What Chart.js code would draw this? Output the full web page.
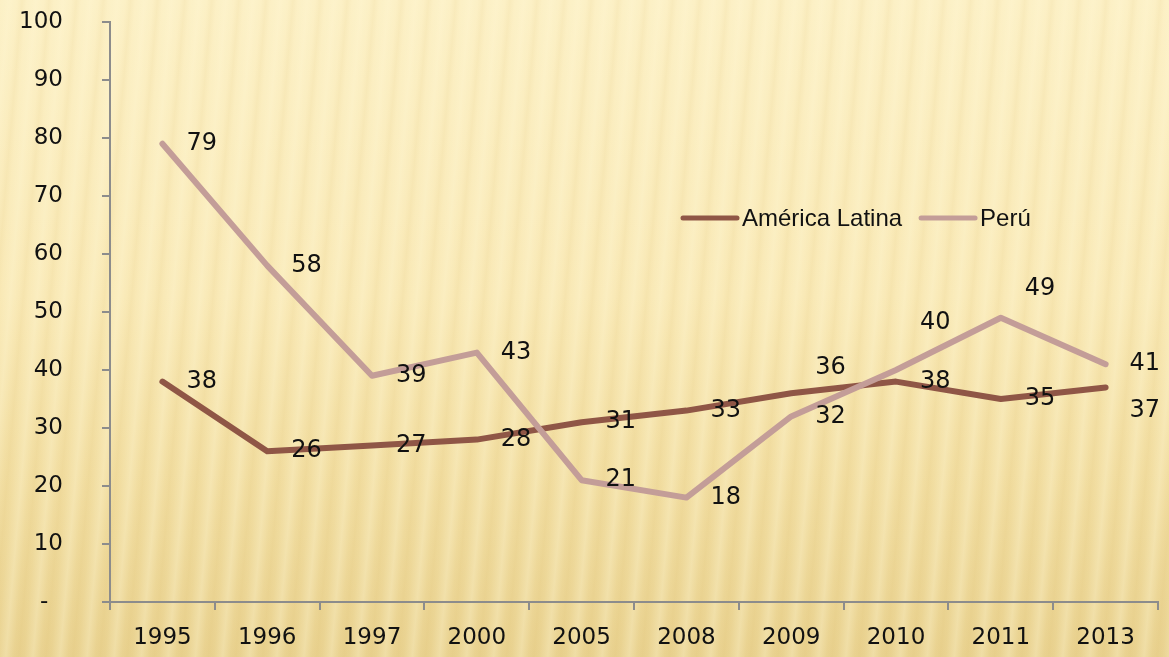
<!DOCTYPE html>
<html>
<head>
<meta charset="utf-8">
<script src="https://cdn.jsdelivr.net/npm/chart.js@4"></script>
<style>
  html, body { margin: 0; padding: 0; }
  body {
    width: 1169px; height: 657px; overflow: hidden;
    background:
      repeating-linear-gradient(95deg, rgba(255,248,215,0) 0px, rgba(255,248,215,0.30) 9px, rgba(255,248,215,0) 17px, rgba(205,165,70,0.07) 22px, rgba(255,248,215,0) 27px),
      linear-gradient(to bottom, #FCF0C5 0%, #F9E9B6 45%, #F2DEA2 72%, #E9D290 100%);
  }
  #wrap { position: relative; width: 1169px; height: 657px; }
</style>
</head>
<body>
<div id="wrap"><canvas id="chart"></canvas></div>
<script>
const years       = ['1995', '1996', '1997', '2000', '2005', '2008', '2009', '2010', '2011', '2013']
const latinValues = [38, 26, 27, 28, 31, 33, 36, 38, 35, 37]
const peruValues  = [79, 58, 39, 43, 21, 18, 32, 40, 49, 41]
const yTicks      = [0, 10, 20, 30, 40, 50, 60, 70, 80, 90, 100]

const AXIS_GRAY = '#8C8C8C'
const LATIN_COLOR = '#8F5646'
const PERU_COLOR  = '#C39D98'

// value labels to the right of each point, a few nudged up/down like the original
const labelPlugin = {
  id: 'valueLabels',
  afterDatasetsDraw(chart, args, opts) {
    const ctx = chart.ctx
    ctx.save()
    ctx.font = '24px "DejaVu Sans"'
    ctx.fillStyle = '#111'
    ctx.textAlign = 'left'
    ctx.textBaseline = 'middle'
    chart.data.datasets.forEach((ds, di) => {
      const meta = chart.getDatasetMeta(di)
      const dys = opts.offsets[di] || []
      meta.data.forEach((pt, i) => {
        ctx.fillText(String(ds.data[i]), pt.x + 24, pt.y + (dys[i] || 0))
      })
    })
    ctx.restore()
  }
}

// legend drawn inside the plot, as in the original
const legendPlugin = {
  id: 'insideLegend',
  afterDraw(chart, args, opts) {
    const ctx = chart.ctx
    ctx.save()
    ctx.font = '24px "Liberation Sans"'
    ctx.textBaseline = 'middle'
    ctx.textAlign = 'left'
    let x = opts.x
    const y = opts.y
    chart.data.datasets.forEach(ds => {
      ctx.strokeStyle = ds.borderColor
      ctx.lineWidth = 5
      ctx.lineCap = 'round'
      ctx.beginPath()
      ctx.moveTo(x, y)
      ctx.lineTo(x + 54, y)
      ctx.stroke()
      ctx.fillStyle = '#111'
      ctx.fillText(ds.label, x + 59, y + 1)
      x += 59 + ctx.measureText(ds.label).width + 19
    })
    ctx.restore()
  }
}

new Chart(document.getElementById('chart'), {
  type: 'line',
  data: {
    labels: years,
    datasets: [
      {
        label: 'América Latina',
        data: latinValues,
        borderColor: LATIN_COLOR,
        backgroundColor: LATIN_COLOR,
        borderWidth: 6,
        borderCapStyle: 'round',
        borderJoinStyle: 'round',
        pointRadius: 0,
        tension: 0,
        order: 1,
      },
      {
        label: 'Perú',
        data: peruValues,
        borderColor: PERU_COLOR,
        backgroundColor: PERU_COLOR,
        borderWidth: 6,
        borderCapStyle: 'round',
        borderJoinStyle: 'round',
        pointRadius: 0,
        tension: 0,
        order: 0,
      }
    ]
  },
  options: {
    responsive: true, maintainAspectRatio: false,
    animation: false,
    layout: { padding: { top: 22, right: 11, left: 0, bottom: 0 } },
    plugins: {
      legend: { display: false },
      tooltip: { enabled: false },
      valueLabels: { offsets: [[0, 0, 0, 0, 0, 0, -25, 0, 0, 23], [0, 0, 0, 0, 0, 0, 0, -47, -29, 0]] },
      insideLegend: { x: 683, y: 218 },
    },
    scales: {
      x: {
        offset: true,
        grid: { offset: true, drawOnChartArea: false, drawTicks: true, tickLength: 8, color: AXIS_GRAY, lineWidth: 2 },
        border: { color: AXIS_GRAY, width: 2 },
        ticks: { color: '#111', font: { family: 'DejaVu Sans', size: 23 }, padding: 14, maxRotation: 0 },
        afterFit: s => { s.height = 55 },
      },
      y: {
        min: 0, max: 100,
        afterBuildTicks: s => { s.ticks = yTicks.map(v => ({ value: v })) },
        grid: { drawOnChartArea: false, drawTicks: true, tickLength: 8, color: AXIS_GRAY, lineWidth: 2 },
        border: { color: AXIS_GRAY, width: 2 },
        ticks: {
          color: '#111', font: { family: 'DejaVu Sans', size: 23 }, padding: 39,
          callback: v => v === 0 ? '-  ' : String(v),
        },
        // the big label padding would otherwise push the plot top down
        afterFit: s => { s.width = 110; s.paddingTop = 0; s.paddingBottom = 0 },
      }
    }
  },
  plugins: [labelPlugin, legendPlugin]
})
</script>
</body>
</html>
